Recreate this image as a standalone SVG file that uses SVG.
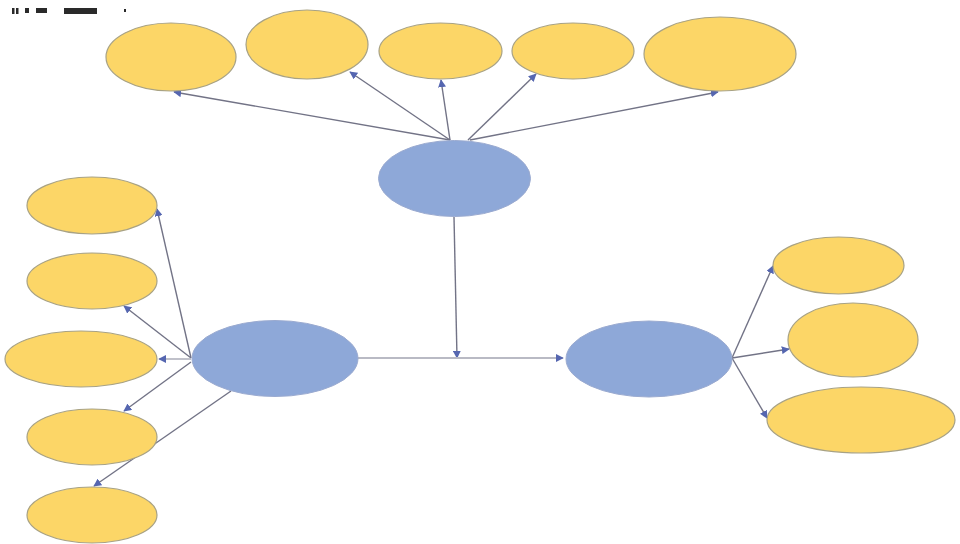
<svg xmlns="http://www.w3.org/2000/svg" width="960" height="544" viewBox="0 0 960 544">
<defs>
<style>
.leaf{fill:#FCD667;stroke:#A8A284;stroke-width:1.2}
.hub{fill:#8EA8D8;stroke:#9AAAD0;stroke-width:1}
.edge{stroke:#727386;stroke-width:1.4;fill:none;marker-end:url(#ah)}
.edge.light{stroke:#B9BAC4;stroke-width:1.8}
.mark{fill:#2a2a2a}
</style>
<marker id="ah" viewBox="0 0 10 10" refX="9" refY="5" markerWidth="8" markerHeight="8" markerUnits="userSpaceOnUse" orient="auto">
<path d="M0,0 L10,5 L0,10 z" fill="#5566B0"/>
</marker>
</defs>
<rect width="960" height="544" fill="#fff"/>
<g id="artifacts">
<rect class="mark" x="12" y="8" width="2.5" height="6"/>
<rect class="mark" x="16" y="8" width="2.5" height="6"/>
<rect class="mark" x="25" y="8" width="4" height="5"/>
<rect class="mark" x="36" y="8" width="11" height="5"/>
<rect class="mark" x="64" y="8" width="33" height="6"/>
<rect class="mark" x="124" y="9" width="2" height="3"/>
</g>
<g id="connectors">
<line class="edge" x1="450" y1="140" x2="174" y2="92"/>
<line class="edge" x1="450" y1="140" x2="350" y2="72"/>
<line class="edge" x1="450" y1="140" x2="441" y2="80"/>
<line class="edge" x1="468" y1="140" x2="536" y2="74"/>
<line class="edge" x1="470" y1="140" x2="718" y2="92"/>
<line class="edge" x1="454" y1="217" x2="457" y2="358"/>
<line class="edge light" x1="358" y1="358" x2="563" y2="358"/>
<line class="edge" x1="191" y1="358" x2="157" y2="209"/>
<line class="edge" x1="191" y1="358" x2="124" y2="306"/>
<line class="edge light" x1="191" y1="359" x2="159" y2="359"/>
<line class="edge" x1="191" y1="362" x2="124" y2="411"/>
<line class="edge" x1="231" y1="391" x2="94" y2="486"/>
<line class="edge" x1="732" y1="358" x2="773" y2="266"/>
<line class="edge" x1="732" y1="358" x2="789" y2="349"/>
<line class="edge" x1="732" y1="358" x2="767" y2="418"/>
</g>
<g id="hub-top"><ellipse class="hub" cx="454.5" cy="178.5" rx="76" ry="38"/></g>
<g id="hub-left"><ellipse class="hub" cx="275" cy="358.5" rx="83" ry="38"/></g>
<g id="hub-right"><ellipse class="hub" cx="649" cy="359" rx="83" ry="38"/></g>
<g id="top-1"><ellipse class="leaf" cx="171" cy="57" rx="65" ry="34"/></g>
<g id="top-2"><ellipse class="leaf" cx="307" cy="44.5" rx="61" ry="34.5"/></g>
<g id="top-3"><ellipse class="leaf" cx="440.5" cy="51" rx="61.5" ry="28"/></g>
<g id="top-4"><ellipse class="leaf" cx="573" cy="51" rx="61" ry="28"/></g>
<g id="top-5"><ellipse class="leaf" cx="720" cy="54" rx="76" ry="37"/></g>
<g id="left-1"><ellipse class="leaf" cx="92" cy="205.5" rx="65" ry="28.5"/></g>
<g id="left-2"><ellipse class="leaf" cx="92" cy="281" rx="65" ry="28"/></g>
<g id="left-3"><ellipse class="leaf" cx="81" cy="359" rx="76" ry="28"/></g>
<g id="left-4"><ellipse class="leaf" cx="92" cy="437" rx="65" ry="28"/></g>
<g id="left-5"><ellipse class="leaf" cx="92" cy="515" rx="65" ry="28"/></g>
<g id="right-1"><ellipse class="leaf" cx="838.5" cy="265.5" rx="65.5" ry="28.5"/></g>
<g id="right-2"><ellipse class="leaf" cx="853" cy="340" rx="65" ry="37"/></g>
<g id="right-3"><ellipse class="leaf" cx="861" cy="420" rx="94" ry="33"/></g>
</svg>
